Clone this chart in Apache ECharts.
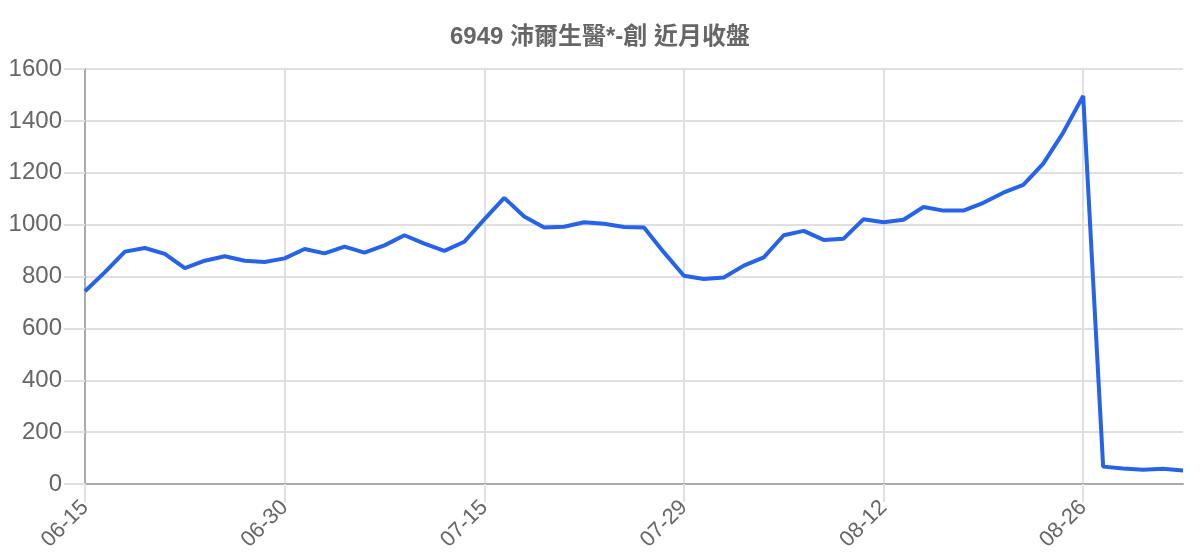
<!DOCTYPE html>
<html lang="zh-Hant">
<head>
    <meta charset="UTF-8">
    <title>6949 近月收盤</title>
    <script src="https://cdn.jsdelivr.net/npm/echarts@6.0.0/dist/echarts.min.js"></script>
    <style>
        html, body { margin: 0; padding: 0; background: #fff; }
    </style>
</head>
<body>
    <div id="chart" style="width: 1200px; height: 560px;"></div>
    <script>
        // 交易日 (每10筆顯示一個標籤)
        const dates = [
            '06-15', '06-17', '06-18', '06-19', '06-20', '06-23', '06-24', '06-25', '06-26', '06-27',
            '06-30', '07-01', '07-02', '07-03', '07-04', '07-07', '07-08', '07-09', '07-10', '07-14',
            '07-15', '07-16', '07-17', '07-18', '07-21', '07-22', '07-23', '07-24', '07-25', '07-28',
            '07-29', '07-30', '07-31', '08-01', '08-04', '08-05', '08-06', '08-07', '08-08', '08-11',
            '08-12', '08-13', '08-14', '08-15', '08-18', '08-19', '08-20', '08-21', '08-22', '08-25',
            '08-26', '08-27', '08-28', '08-29', '09-01', '09-02'
        ];
        // 收盤價
        const closes = [
            743, 817, 896, 910, 887, 832, 861, 878, 861, 856,
            870, 906, 889, 915, 892, 920, 959, 927, 899, 934,
            1020, 1103, 1031, 989, 992, 1009, 1003, 991, 989, 893,
            803, 790, 796, 842, 874, 959, 976, 941, 946, 1021,
            1009, 1019, 1068, 1054, 1054, 1084, 1123, 1153, 1235, 1355,
            1496, 67, 60, 55, 59, 52
        ];
        const titleText = '6949 沛爾生醫*-創 近月收盤';

        const myChart = echarts.init(document.getElementById('chart'));
        const gridColor = '#e0e0e0';
        const textColor = '#666';

        let option = {
            animation: false,
            title: {
                text: titleText,
                left: 'center',
                top: 20,
                textStyle: {
                    fontSize: 24,
                    fontWeight: 'bold',
                    color: textColor,
                    fontFamily: '"Liberation Sans", "Noto Sans CJK TC", sans-serif'
                }
            },
            grid: {
                left: 85,
                right: 17,
                top: 69,
                bottom: 76
            },
            xAxis: {
                type: 'category',
                data: dates,
                boundaryGap: false,
                axisLine: { lineStyle: { color: '#aaa', width: 2 } },
                axisTick: {
                    interval: 9,
                    length: 18,
                    lineStyle: { color: gridColor, width: 2 }
                },
                axisLabel: {
                    interval: 9,
                    rotate: 45,
                    margin: 20,
                    fontSize: 22,
                    color: textColor,
                    fontFamily: '"Liberation Sans", sans-serif'
                },
                splitLine: {
                    show: true,
                    interval: 9,
                    lineStyle: { color: gridColor, width: 2 }
                }
            },
            yAxis: {
                type: 'value',
                min: 0,
                max: 1600,
                interval: 200,
                axisLine: { show: true, lineStyle: { color: '#aaa', width: 2 } },
                axisTick: {
                    show: true,
                    length: 21,
                    lineStyle: { color: gridColor, width: 2 }
                },
                axisLabel: {
                    margin: 23,
                    fontSize: 24,
                    color: textColor,
                    fontFamily: '"Liberation Sans", sans-serif',
                    formatter: v => String(v)
                },
                splitLine: {
                    lineStyle: { color: gridColor, width: 2 }
                }
            },
            series: [{
                type: 'line',
                data: closes,
                showSymbol: false,
                smooth: false,
                lineStyle: { color: '#2563eb', width: 4 },
                itemStyle: { color: '#2563eb' }
            }]
        };
        myChart.setOption(option);
    </script>
</body>
</html>
